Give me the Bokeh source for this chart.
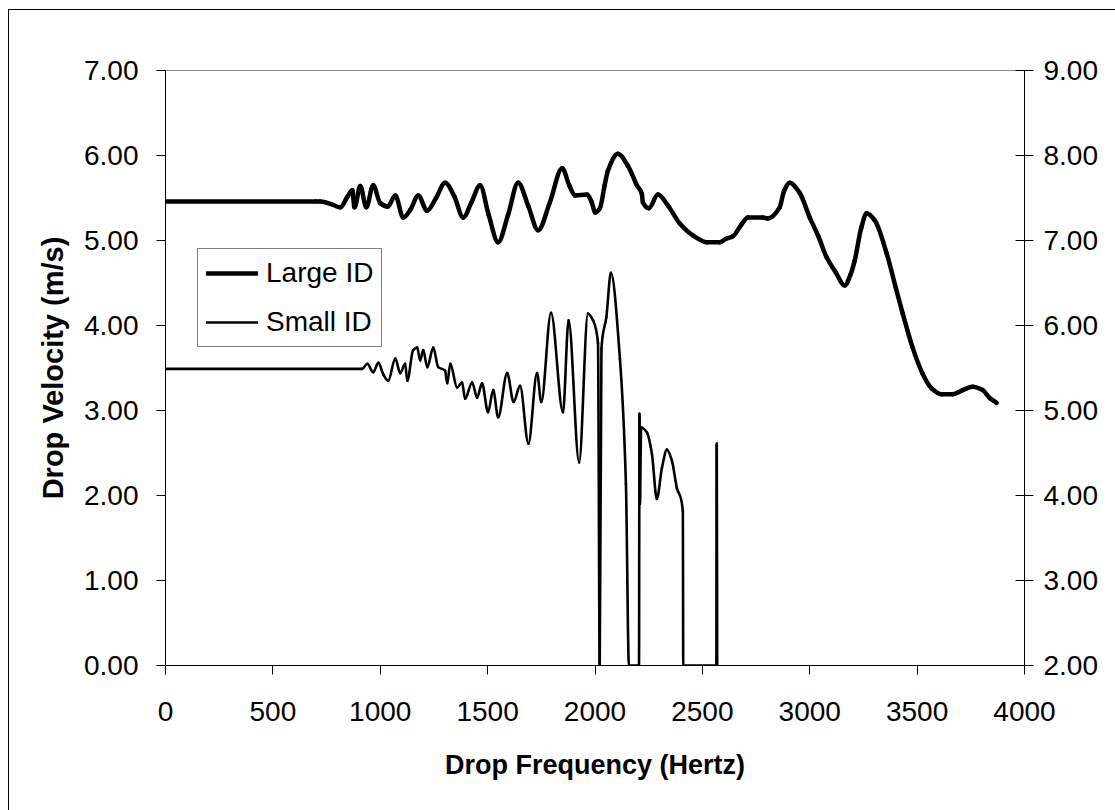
from bokeh.plotting import figure
from bokeh.models import (Range1d, LinearAxis, FixedTicker, NumeralTickFormatter,
                          Legend, LegendItem)
from bokeh.embed import file_html
from bokeh.resources import INLINE

# Large ID series (frequency in Hz, velocity in m/s on the secondary 2-9 scale)
large_freq = [0, 700, 721, 780, 814, 846, 870, 880, 907, 935, 967, 1000, 1035, 1070,
              1107, 1140, 1177, 1218, 1260, 1302, 1345, 1386, 1425, 1465, 1505, 1549,
              1595, 1642, 1690, 1735, 1790, 1847, 1880, 1907, 1963, 1985, 2000, 2023,
              2045, 2060, 2107, 2153, 2195, 2218, 2223, 2251, 2293, 2340, 2395, 2456,
              2521, 2581, 2610, 2642, 2680, 2712, 2781, 2805, 2860, 2880, 2907, 2953,
              3000, 3040, 3079, 3120, 3163, 3190, 3209, 3240, 3265, 3302, 3358, 3400,
              3433, 3479, 3526, 3567, 3614, 3665, 3712, 3758, 3805, 3837, 3870]
large_vel = [7.46, 7.46, 7.46, 7.42, 7.39, 7.51, 7.59, 7.39, 7.64, 7.39, 7.65, 7.44, 7.40, 7.53,
             7.27, 7.36, 7.53, 7.35, 7.50, 7.68, 7.52, 7.27, 7.45, 7.65, 7.30, 6.98,
             7.30, 7.68, 7.40, 7.12, 7.45, 7.85, 7.65, 7.53, 7.54, 7.45, 7.33, 7.38,
             7.65, 7.82, 8.02, 7.88, 7.65, 7.55, 7.45, 7.38, 7.54, 7.41, 7.20, 7.06,
             6.98, 6.98, 7.02, 7.05, 7.18, 7.27, 7.27, 7.26, 7.39, 7.58, 7.68, 7.56,
             7.27, 7.05, 6.80, 6.63, 6.47, 6.60, 6.76, 7.15, 7.32, 7.24, 6.85, 6.45,
             6.14, 5.74, 5.43, 5.26, 5.19, 5.19, 5.24, 5.28, 5.24, 5.15, 5.09]

# Small ID series (frequency in Hz, velocity in m/s on the primary 0-7 scale)
small_freq = [0, 916, 940, 967, 991, 1015, 1037, 1070, 1093, 1116, 1126, 1153, 1172, 1186,
              1200, 1219, 1247, 1270, 1302, 1312, 1326, 1358, 1381, 1395, 1428, 1451,
              1474, 1502, 1526, 1549, 1591, 1621, 1651, 1690, 1730, 1750, 1795, 1851,
              1877, 1926, 1967, 1991, 2014, 2022, 2030, 2053, 2074, 2116, 2144, 2158,
              2205, 2207, 2209, 2215, 2242, 2265, 2288, 2312, 2335, 2358, 2381, 2409,
              2411, 2565, 2567, 2569]
small_vel = [3.49, 3.49, 3.55, 3.45, 3.56, 3.42, 3.35, 3.61, 3.44, 3.55, 3.35, 3.71, 3.74, 3.59,
             3.71, 3.51, 3.74, 3.51, 3.47, 3.32, 3.55, 3.27, 3.33, 3.14, 3.33, 3.15,
             3.32, 2.98, 3.24, 2.92, 3.44, 3.10, 3.29, 2.61, 3.44, 3.10, 4.15, 2.98,
             4.06, 2.39, 4.14, 4.06, 3.79, 0.00, 3.73, 4.10, 4.62, 3.61, 2.14, 0.00,
             0.00, 2.96, 1.90, 2.80, 2.74, 2.49, 1.96, 2.33, 2.54, 2.41, 2.09, 1.82,
             0.00, 0.00, 2.61, 0.00]

x_ticks = [0, 500, 1000, 1500, 2000, 2500, 3000, 3500, 4000]
left_ticks = [0, 1, 2, 3, 4, 5, 6, 7]
right_ticks = [2, 3, 4, 5, 6, 7, 8, 9]

FONT = "Liberation Sans"


def smoothed_segments(xs, ys):
    """Cubic Bezier pieces of a smoothed, non-overshooting line through (xs, ys)."""
    n = len(xs)
    h = [xs[i + 1] - xs[i] for i in range(n - 1)]
    d = [(ys[i + 1] - ys[i]) / h[i] for i in range(n - 1)]
    m = [0.0] * n
    m[0], m[-1] = d[0], d[-1]
    for i in range(1, n - 1):
        if d[i - 1] * d[i] <= 0:
            m[i] = 0.0
        else:
            w1 = 2 * h[i] + h[i - 1]
            w2 = h[i] + 2 * h[i - 1]
            m[i] = (w1 + w2) / (w1 / d[i - 1] + w2 / d[i])
    seg = {k: [] for k in ("x0", "y0", "x1", "y1", "cx0", "cy0", "cx1", "cy1")}
    for i in range(n - 1):
        t = h[i] / 3.0
        seg["x0"].append(xs[i])
        seg["y0"].append(ys[i])
        seg["x1"].append(xs[i + 1])
        seg["y1"].append(ys[i + 1])
        seg["cx0"].append(xs[i] + t)
        seg["cy0"].append(ys[i] + m[i] * t)
        seg["cx1"].append(xs[i + 1] - t)
        seg["cy1"].append(ys[i + 1] - m[i + 1] * t)
    return seg


p = figure(width=1115, height=810, output_backend="svg", toolbar_location=None,
           x_range=Range1d(0, 4000), y_range=Range1d(0, 7),
           min_border_left=165, min_border_right=91, min_border_top=70,
           min_border_bottom=145)
p.extra_y_ranges = {"right": Range1d(2, 9)}

p.border_fill_color = "white"
p.background_fill_color = "white"
# left and top edges of the chart-area frame
p.stylesheets = [
    ":host { position: relative; }\n"
    ":host::after { content: ''; position: absolute; left: 8px; top: 9px; "
    "right: 0; bottom: 0; border-left: 1px solid #000; border-top: 1px solid #000; "
    "pointer-events: none; z-index: 10; }"
]
p.outline_line_color = "#8a8a8a"
p.outline_line_width = 1
p.xgrid.visible = False
p.ygrid.visible = False

r_large = p.bezier(**smoothed_segments(large_freq, large_vel),
                   y_range_name="right", line_color="black", line_width=4.5,
                   line_cap="round")
r_small = p.bezier(**smoothed_segments(small_freq, small_vel),
                   line_color="black", line_width=2.6, line_cap="round")

# bottom axis
xa = p.xaxis[0]
xa.ticker = FixedTicker(ticks=x_ticks)
xa.major_tick_in = 0
xa.major_tick_out = 9
xa.minor_tick_line_color = None
xa.axis_line_color = "black"
xa.major_tick_line_color = "black"
xa.major_label_text_font = FONT
xa.major_label_text_font_size = "28px"
xa.major_label_text_color = "black"
xa.major_label_standoff = 27
xa.axis_label = "Drop Frequency (Hertz)"
xa.axis_label_text_font = FONT
xa.axis_label_text_font_size = "27px"
xa.axis_label_text_font_style = "bold"
xa.axis_label_text_color = "black"
xa.axis_label_standoff = 26

# left axis
ya = p.yaxis[0]
ya.ticker = FixedTicker(ticks=left_ticks)
ya.formatter = NumeralTickFormatter(format="0.00")
ya.major_tick_in = 0
ya.major_tick_out = 9
ya.minor_tick_line_color = None
ya.axis_line_color = "black"
ya.major_tick_line_color = "black"
ya.major_label_text_font = FONT
ya.major_label_text_font_size = "28px"
ya.major_label_text_color = "black"
ya.major_label_standoff = 18
ya.axis_label = "Drop Velocity (m/s)"
ya.axis_label_text_font = FONT
ya.axis_label_text_font_size = "29px"
ya.axis_label_text_font_style = "bold"
ya.axis_label_text_color = "black"
ya.axis_label_standoff = 12

# right axis
ra = LinearAxis(y_range_name="right", ticker=FixedTicker(ticks=right_ticks),
                formatter=NumeralTickFormatter(format="0.00"))
ra.major_tick_in = 9
ra.major_tick_out = 9
ra.minor_tick_line_color = None
ra.axis_line_color = "black"
ra.major_tick_line_color = "black"
ra.major_label_text_font = FONT
ra.major_label_text_font_size = "28px"
ra.major_label_text_color = "black"
ra.major_label_standoff = 10
p.add_layout(ra, "right")

legend = Legend(items=[LegendItem(label="Large ID", renderers=[r_large]),
                       LegendItem(label="Small ID", renderers=[r_small])],
                location=(32, 318), orientation="vertical",
                label_text_font=FONT, label_text_font_size="28px",
                label_text_color="black",
                label_height=30, glyph_height=30, glyph_width=52,
                label_standoff=8, spacing=17, padding=8, margin=0,
                border_line_color="black", border_line_width=1,
                background_fill_color="white", background_fill_alpha=1)
p.add_layout(legend)

open("out.html", "w").write(file_html(p, INLINE))
